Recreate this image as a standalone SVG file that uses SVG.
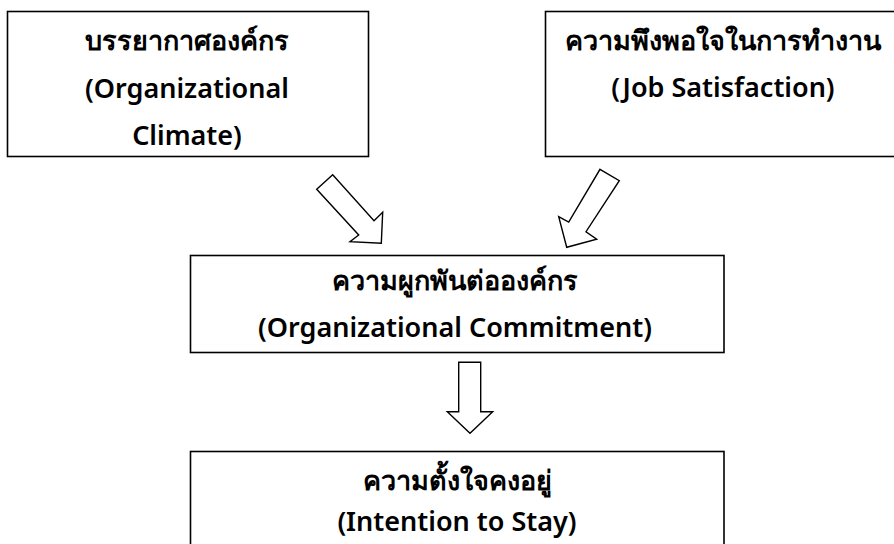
<svg xmlns="http://www.w3.org/2000/svg" width="894" height="544" viewBox="0 0 894 544">
<style>
.box{fill:#fff;stroke:#000;stroke-width:1.6}
.arr{fill:#fff;stroke:#000;stroke-width:1.4;stroke-linejoin:miter}
text{font-family:"Noto Sans","DejaVu Sans",sans-serif;font-size:27px;font-weight:600;fill:#000;text-anchor:middle}
</style>
<rect width="894" height="544" fill="#fff"/>
<g id="node-climate">
<rect class="box" x="7.5" y="11.5" width="361" height="145"/>
<text x="187" y="50">บรรยากาศองค์กร</text>
<text x="187" y="98">(Organizational</text>
<text x="187" y="145">Climate)</text>
</g>
<g id="node-satisfaction">
<rect class="box" x="545.5" y="11.5" width="360" height="145"/>
<text x="723" y="50">ความพึงพอใจในการทำงาน</text>
<text x="723" y="97">(Job Satisfaction)</text>
</g>
<g id="node-commitment">
<rect class="box" x="190.5" y="255.5" width="533.5" height="97"/>
<text x="455" y="290">ความผูกพันต่อองค์กร</text>
<text x="455" y="337">(Organizational Commitment)</text>
</g>
<g id="node-stay">
<rect class="box" x="190.5" y="451.5" width="533.5" height="100"/>
<text x="457" y="490">ความตั้งใจคงอยู่</text>
<text x="457" y="531">(Intention to Stay)</text>
</g>
<g id="connectors">
<polygon class="arr" points="316.7,189.3 332.7,174.7 374,220.7 382.7,212.3 381.3,243.3 350,241.7 358.7,235"/>
<polygon class="arr" points="600,169.3 619.3,180.7 586,231.7 596.7,239.3 566.7,247.3 558.7,216.7 568.7,222"/>
<polygon class="arr" points="458.7,362.3 480.7,362.3 480.7,411.7 492.7,411.7 470,433.3 447.3,411.7 458.7,411.7"/>
</g>
</svg>
